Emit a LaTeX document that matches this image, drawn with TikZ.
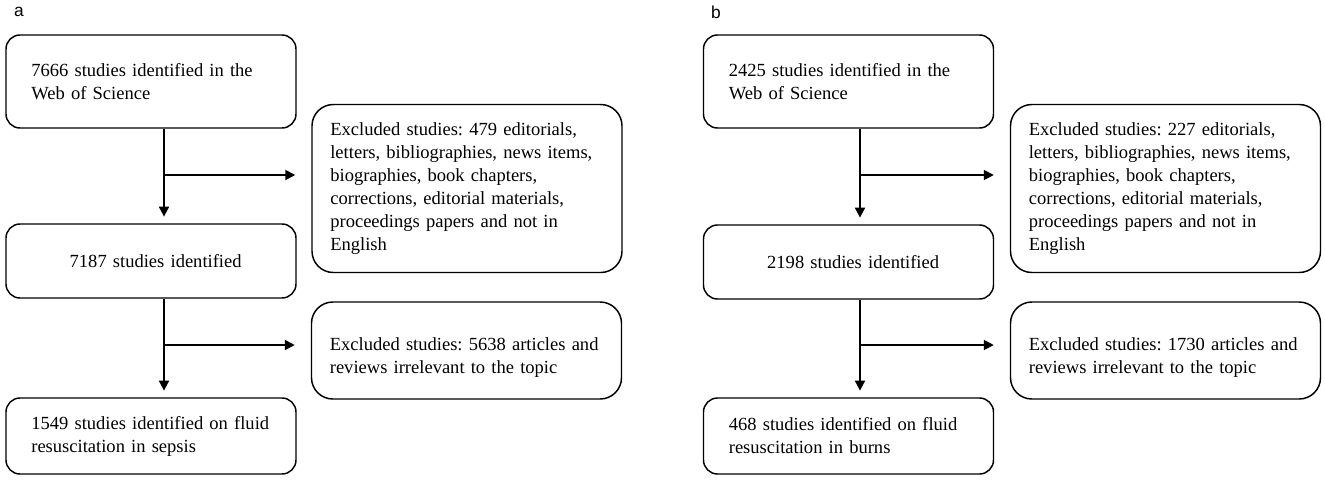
\documentclass[tikz,border=0pt]{standalone}
\usepackage{fontspec}
\setmainfont{Liberation Serif}
\newfontfamily\panelfont{Liberation Sans}
\usetikzlibrary{arrows.meta}

\newcommand{\boxfont}{\fontsize{13.9pt}{17.25pt}\selectfont\frenchspacing}

\tikzset{
    studybox/.style={draw, line width=1.1pt, rounded corners=10.5pt, inner sep=0pt,
        minimum width=217.5pt, text width=179.5pt, align=left, font=\boxfont},
    exclbox/.style={draw, line width=1.1pt, rounded corners=16pt, inner sep=0pt,
        minimum width=232.5pt, text width=205pt, align=left, font=\boxfont},
    flow/.style={-{Triangle[length=7.5pt,width=7.5pt]}, line width=1.4pt},
    panel/.style={font=\panelfont\fontsize{13pt}{15pt}\selectfont}
}

\begin{document}
\begin{tikzpicture}[x=0.75pt,y=-0.75pt]
    \useasboundingbox (0,0) rectangle (1325,480);

    % Panel a: sepsis
    \node[panel] (pa) at (19,12) {a};
    \node[studybox, minimum height=69.75pt] (a1) at (151,81.5) {7666 studies identified in the\\Web of Science};
    \node[studybox, minimum height=55.5pt, align=center] (a2) at (151,261) {\hspace*{7pt}7187 studies identified};
    \node[studybox, minimum height=57pt] (a3) at (151,436) {1549 studies identified on fluid\\resuscitation in sepsis};
    \node[exclbox, minimum height=126pt] (ea1) at (467,188.5) {Excluded studies: 479 editorials,\\letters, bibliographies, news items,\\biographies, book chapters,\\corrections, editorial materials,\\proceedings papers and not in\\English};
    \node[exclbox, minimum height=72.75pt] (ea2) at (466.5,350.5) {\rule{0pt}{20pt}Excluded studies: 5638 articles and\\reviews irrelevant to the topic};

    % Arrows a
    \coordinate (ja1) at (164,175);
    \coordinate (ja2) at (164,345);
    \draw[flow, shorten >=5pt] (a1.south -| ja1) -- (a2.north -| ja1);
    \draw[flow, shorten >=12pt] (ja1) -- (ja1 -| ea1.west);
    \draw[flow, shorten >=5pt] (a2.south -| ja2) -- (a3.north -| ja2);
    \draw[flow, shorten >=12pt] (ja2) -- (ja2 -| ea2.west);

    % Panel b: burns
    \node[panel] (pb) at (716,12) {b};
    \node[studybox, minimum height=69.75pt] (b1) at (848.5,81.5) {2425 studies identified in the\\Web of Science};
    \node[studybox, minimum height=55.5pt, align=center] (b2) at (848.5,262) {\hspace*{7pt}2198 studies identified};
    \node[studybox, minimum height=57pt] (b3) at (848.5,436) {468 studies identified on fluid\\resuscitation in burns};
    \node[exclbox, minimum height=126pt] (eb1) at (1165.5,188.5) {Excluded studies: 227 editorials,\\letters, bibliographies, news items,\\biographies, book chapters,\\corrections, editorial materials,\\proceedings papers and not in\\English};
    \node[exclbox, minimum height=72.75pt] (eb2) at (1165.5,350.5) {\rule{0pt}{20pt}Excluded studies: 1730 articles and\\reviews irrelevant to the topic};

    % Arrows b
    \coordinate (jb1) at (860,175);
    \coordinate (jb2) at (860,345);
    \draw[flow, shorten >=5pt] (b1.south -| jb1) -- (b2.north -| jb1);
    \draw[flow, shorten >=12pt] (jb1) -- (jb1 -| eb1.west);
    \draw[flow, shorten >=5pt] (b2.south -| jb2) -- (b3.north -| jb2);
    \draw[flow, shorten >=12pt] (jb2) -- (jb2 -| eb2.west);
\end{tikzpicture}
\end{document}
